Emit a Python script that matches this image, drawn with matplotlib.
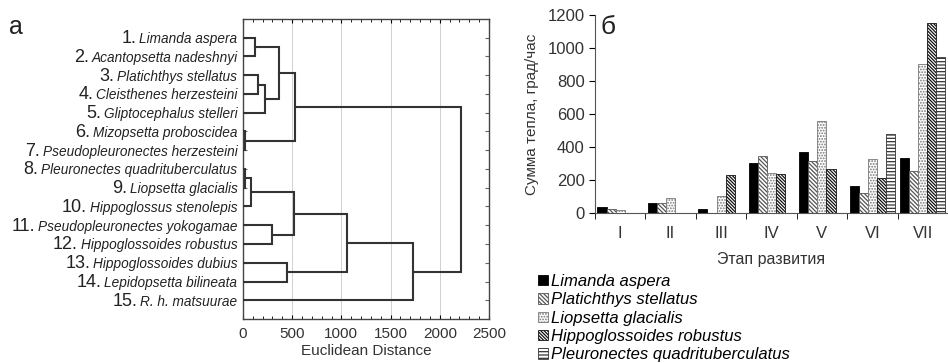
import matplotlib.pyplot as plt
import numpy as np

plt.rcParams['font.family'] = ['Liberation Sans', 'DejaVu Sans']
plt.rcParams['hatch.linewidth'] = 0.9

# --- dendrogram data (panel a)
species = ['Limanda aspera', 'Acantopsetta nadeshnyi', 'Platichthys stellatus',
           'Cleisthenes herzesteini', 'Gliptocephalus stelleri', 'Mizopsetta proboscidea',
           'Pseudopleuronectes herzesteini', 'Pleuronectes quadrituberculatus',
           'Liopsetta glacialis', 'Hippoglossus stenolepis', 'Pseudopleuronectes yokogamae',
           'Hippoglossoides robustus', 'Hippoglossoides dubius', 'Lepidopsetta bilineata',
           'R. h. matsuurae']
# merges: new node ids start at len(species)
merge_a = [5, 7, 16, 0, 2, 19, 10, 18, 12, 17, 22, 24, 26, 25]
merge_b = [6, 8, 9, 1, 3, 4, 11, 20, 13, 21, 15, 23, 14, 27]
merge_h = [25, 20, 80, 120, 150, 225, 300, 365, 445, 520, 530, 1060, 1725, 2220]

# --- bar data (panel b)
stages = ['I', 'II', 'III', 'IV', 'V', 'VI', 'VII']
limanda = [40, 60, 26, 303, 373, 167, 335]
platichthys = [28, 60, 4, 347, 315, 123, 258]
liopsetta = [18, 93, 105, 242, 561, 327, 905]
hipp_rob = [0, 0, 234, 238, 270, 216, 1155]
pleuron = [0, 0, 0, 0, 0, 482, 949]
series_names = ['Limanda aspera', 'Platichthys stellatus', 'Liopsetta glacialis',
                'Hippoglossoides robustus', 'Pleuronectes quadrituberculatus']

fig = plt.figure(figsize=(9.48, 3.63), dpi=100)

# ================= panel a
ax = fig.add_axes([0.2563, 0.1212, 0.2595, 0.8265])
n = len(species)
pos = {i: i + 1.0 for i in range(n)}
hgt = {i: 0.0 for i in range(n)}
lc = '#333333'
for k, (a, b, h) in enumerate(zip(merge_a, merge_b, merge_h)):
    ax.plot([hgt[a], h, h, hgt[b]], [pos[a], pos[a], pos[b], pos[b]],
            color=lc, lw=1.5, solid_joinstyle='miter', zorder=3)
    node = n + k
    pos[node] = (pos[a] + pos[b]) / 2
    hgt[node] = h

ax.set_xlim(0, 2500)
ax.set_ylim(n + 1, 0)
ax.set_xticks([0, 500, 1000, 1500, 2000, 2500])
ax.set_xticks(np.arange(0, 2501, 100), minor=True)
ax.set_yticks(np.arange(1, n + 1))
ax.set_yticklabels([])
ax.tick_params(axis='x', which='both', direction='in', top=True, labelsize=11,
               pad=6, labelcolor='#333333')
ax.tick_params(axis='x', which='major', length=3)
ax.tick_params(axis='x', which='minor', length=2)
ax.tick_params(axis='y', direction='in', right=True, length=3, color='#666666')
ax.grid(axis='x', which='major', color='#d0d0d0', lw=0.7)
for s in ax.spines.values():
    s.set_color('#444444')
    s.set_linewidth(1.0)
ax.set_xlabel('Euclidean Distance', fontsize=11, labelpad=2, color='#333333')

for i, name in enumerate(species):
    t = ax.annotate(name, xy=(0, i + 1), xycoords=('axes fraction', 'data'),
                    xytext=(-4, -3.8), textcoords='offset points',
                    ha='right', va='baseline', fontsize=9.8, style='italic',
                    color='#222222', annotation_clip=False)
    ax.annotate(f'{i + 1}.', xy=(0, i + 1), xycoords=(t, 'data'),
                xytext=(-2, -3.8), textcoords='offset points',
                ha='right', va='baseline', fontsize=13, color='#222222',
                annotation_clip=False)

fig.text(0.009, 0.905, 'а', fontsize=18, color='#222222')

# ================= panel b
bx = fig.add_axes([0.6276, 0.4124, 0.3724, 0.5455])
x = np.arange(len(stages))
w = 0.18
styles = [dict(color='black', edgecolor='black'),
          dict(color='white', edgecolor='#555555', hatch='\\' * 8),
          dict(color='white', edgecolor='#777777', hatch='......'),
          dict(color='white', edgecolor='#111111', hatch='\\' * 10),
          dict(color='white', edgecolor='#333333', hatch='-' * 5)]
values = [limanda, platichthys, liopsetta, hipp_rob, pleuron]
for j, (vals, st, lab) in enumerate(zip(values, styles, series_names)):
    bx.bar(x + (j - 2) * w, vals, w, label=lab, linewidth=0.6, **st)

bx.set_xlim(-0.5, len(stages) - 0.5)
bx.set_ylim(0, 1200)
bx.set_yticks(np.arange(0, 1201, 200))
bx.set_xticks(x)
bx.set_xticklabels(stages)
bx.set_xticks(np.arange(-0.5, len(stages), 1), minor=True)
bx.tick_params(axis='x', which='major', length=0, labelsize=12, pad=9, labelcolor='#333333')
bx.tick_params(axis='x', which='minor', length=4, direction='out')
bx.tick_params(axis='y', length=4, labelsize=12, labelcolor='#333333')
for s in ['top', 'right']:
    bx.spines[s].set_visible(False)
bx.spines['left'].set_color('#555555')
bx.spines['bottom'].set_color('#555555')
bx.set_ylabel('Сумма тепла, град/час', fontsize=11, color='#333333', labelpad=6)
bx.set_xlabel('Этап развития', fontsize=11.5, color='#333333', labelpad=8)
fig.text(0.633, 0.905, 'б', fontsize=19, color='#222222')

leg = fig.legend(loc='upper left', bbox_to_anchor=(0.568, 0.245), frameon=False,
                 prop=dict(size=12, style='italic'), handlelength=0.55,
                 handleheight=0.55, handletextpad=0.2, labelspacing=0.2,
                 borderpad=0, borderaxespad=0)

fig.savefig('out.png', dpi=100)
